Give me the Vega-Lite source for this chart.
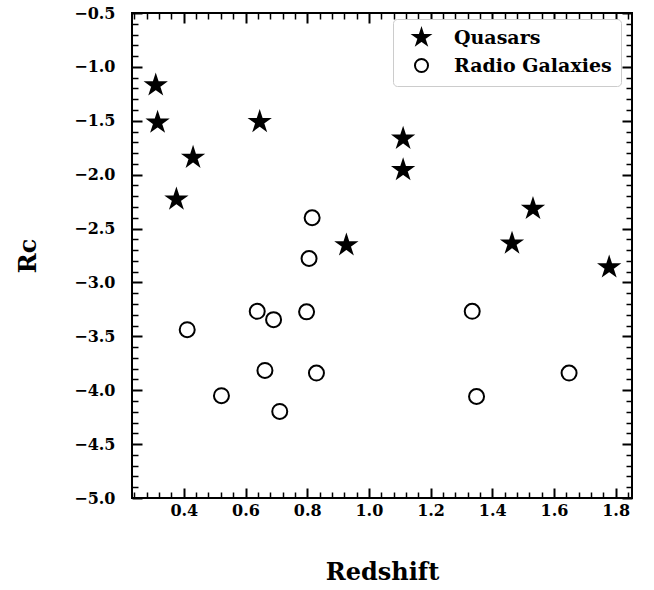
{
  "$schema": "https://vega.github.io/schema/vega-lite/v6.json",
  "width": 500,
  "height": 485,
  "autosize": {"type": "none"},
  "padding": {"left": 132, "top": 13, "right": 22, "bottom": 92},
  "background": "white",
  "config": {
    "view": {"stroke": "black", "strokeWidth": 2},
    "axis": {
      "domain": false,
      "grid": false,
      "tickColor": "black",
      "labelColor": "black",
      "titleColor": "black",
      "labelFont": "DejaVu Serif",
      "labelFontWeight": "bold",
      "labelFontSize": 16,
      "titleFont": "DejaVu Serif",
      "titleFontWeight": "bold",
      "titleFontSize": 24
    },
    "legend": {
      "orient": "none", "legendX": 261, "legendY": 6,
      "labelFont": "DejaVu Serif", "labelFontWeight": "bold", "labelFontSize": 19, "labelColor": "black",
      "symbolSize": 170, "symbolStrokeColor": "black", "symbolStrokeWidth": 2,
      "strokeColor": "#cccccc", "fillColor": "white", "cornerRadius": 4,
      "padding": 9, "rowPadding": 5, "labelOffset": 23, "symbolOffset": 10
    }
  },
  "data": {
    "values": [
      {"z": 0.309, "r": -1.17, "type": "Quasars"},
      {"z": 0.315, "r": -1.516, "type": "Quasars"},
      {"z": 0.430, "r": -1.842, "type": "Quasars"},
      {"z": 0.376, "r": -2.229, "type": "Quasars"},
      {"z": 0.646, "r": -1.510, "type": "Quasars"},
      {"z": 1.111, "r": -1.665, "type": "Quasars"},
      {"z": 1.111, "r": -1.957, "type": "Quasars"},
      {"z": 1.532, "r": -2.316, "type": "Quasars"},
      {"z": 1.464, "r": -2.638, "type": "Quasars"},
      {"z": 1.779, "r": -2.859, "type": "Quasars"},
      {"z": 0.927, "r": -2.654, "type": "Quasars"},
      {"z": 0.816, "r": -2.400, "type": "Radio Galaxies"},
      {"z": 0.806, "r": -2.778, "type": "Radio Galaxies"},
      {"z": 0.638, "r": -3.268, "type": "Radio Galaxies"},
      {"z": 0.691, "r": -3.345, "type": "Radio Galaxies"},
      {"z": 0.798, "r": -3.273, "type": "Radio Galaxies"},
      {"z": 0.411, "r": -3.438, "type": "Radio Galaxies"},
      {"z": 0.663, "r": -3.816, "type": "Radio Galaxies"},
      {"z": 0.830, "r": -3.841, "type": "Radio Galaxies"},
      {"z": 0.522, "r": -4.051, "type": "Radio Galaxies"},
      {"z": 0.711, "r": -4.197, "type": "Radio Galaxies"},
      {"z": 1.335, "r": -3.268, "type": "Radio Galaxies"},
      {"z": 1.349, "r": -4.058, "type": "Radio Galaxies"},
      {"z": 1.649, "r": -3.841, "type": "Radio Galaxies"}
    ]
  },
  "resolve": {"axis": {"x": "independent", "y": "independent"}},
  "layer": [
    {
      "mark": {"type": "point", "strokeWidth": 2, "opacity": 1, "size": 225},
      "encoding": {
        "x": {
          "field": "z", "type": "quantitative",
          "scale": {"domain": [0.232, 1.853], "nice": false, "zero": false},
          "axis": {"orient": "bottom", "values": [0.4, 0.6, 0.8, 1.0, 1.2, 1.4, 1.6, 1.8], "format": ".1f", "tickSize": -10, "tickWidth": 2, "labelPadding": 14, "title": "Redshift", "titlePadding": 42}
        },
        "y": {
          "field": "r", "type": "quantitative",
          "scale": {"domain": [-5.0, -0.5], "nice": false, "zero": false},
          "axis": {"orient": "left", "values": [-5.0, -4.5, -4.0, -3.5, -3.0, -2.5, -2.0, -1.5, -1.0, -0.5], "format": ".1f", "tickSize": -10, "tickWidth": 2, "labelPadding": 27, "title": "Rc", "titlePadding": 33}
        },
        "shape": {
          "field": "type", "type": "nominal",
          "scale": {"domain": ["Quasars", "Radio Galaxies"], "range": ["M0,-1.27L0.285,-0.392L1.208,-0.392L0.461,0.15L0.746,1.027L0,0.485L-0.746,1.027L-0.461,0.15L-1.208,-0.392L-0.285,-0.392Z", "circle"]},
          "legend": {"title": null}
        },
        "fill": {
          "field": "type", "type": "nominal",
          "scale": {"domain": ["Quasars", "Radio Galaxies"], "range": ["black", "white"]},
          "legend": {"title": null}
        },
        "stroke": {
          "field": "type", "type": "nominal",
          "scale": {"domain": ["Quasars", "Radio Galaxies"], "range": ["black", "black"]},
          "legend": {"title": null}
        }
      }
    },
    {
      "mark": {"type": "point", "opacity": 0},
      "encoding": {
        "x": {"field": "z", "type": "quantitative",
          "axis": {"orient": "bottom", "values": [0.24, 0.28, 0.32, 0.36, 0.44, 0.48, 0.52, 0.56, 0.64, 0.68, 0.72, 0.76, 0.84, 0.88, 0.92, 0.96, 1.04, 1.08, 1.12, 1.16, 1.24, 1.28, 1.32, 1.36, 1.44, 1.48, 1.52, 1.56, 1.64, 1.68, 1.72, 1.76, 1.84], "labels": false, "tickSize": -6, "tickWidth": 1.5, "title": null}},
        "y": {"field": "r", "type": "quantitative",
          "axis": {"orient": "left", "values": [-4.9, -4.8, -4.7, -4.6, -4.4, -4.3, -4.2, -4.1, -3.9, -3.8, -3.7, -3.6, -3.4, -3.3, -3.2, -3.1, -2.9, -2.8, -2.7, -2.6, -2.4, -2.3, -2.2, -2.1, -1.9, -1.8, -1.7, -1.6, -1.4, -1.3, -1.2, -1.1, -0.9, -0.8, -0.7, -0.6], "labels": false, "tickSize": -6, "tickWidth": 1.5, "title": null}}
      }
    },
    {
      "mark": {"type": "point", "opacity": 0},
      "encoding": {
        "x": {"field": "z", "type": "quantitative",
          "axis": {"orient": "top", "values": [0.4, 0.6, 0.8, 1.0, 1.2, 1.4, 1.6, 1.8], "labels": false, "tickSize": -10, "tickWidth": 2, "title": null}},
        "y": {"field": "r", "type": "quantitative",
          "axis": {"orient": "right", "values": [-5.0, -4.5, -4.0, -3.5, -3.0, -2.5, -2.0, -1.5, -1.0, -0.5], "labels": false, "tickSize": -10, "tickWidth": 2, "title": null}}
      }
    },
    {
      "mark": {"type": "point", "opacity": 0},
      "encoding": {
        "x": {"field": "z", "type": "quantitative",
          "axis": {"orient": "top", "values": [0.24, 0.28, 0.32, 0.36, 0.44, 0.48, 0.52, 0.56, 0.64, 0.68, 0.72, 0.76, 0.84, 0.88, 0.92, 0.96, 1.04, 1.08, 1.12, 1.16, 1.24, 1.28, 1.32, 1.36, 1.44, 1.48, 1.52, 1.56, 1.64, 1.68, 1.72, 1.76, 1.84], "labels": false, "tickSize": -6, "tickWidth": 1.5, "title": null}},
        "y": {"field": "r", "type": "quantitative",
          "axis": {"orient": "right", "values": [-4.9, -4.8, -4.7, -4.6, -4.4, -4.3, -4.2, -4.1, -3.9, -3.8, -3.7, -3.6, -3.4, -3.3, -3.2, -3.1, -2.9, -2.8, -2.7, -2.6, -2.4, -2.3, -2.2, -2.1, -1.9, -1.8, -1.7, -1.6, -1.4, -1.3, -1.2, -1.1, -0.9, -0.8, -0.7, -0.6], "labels": false, "tickSize": -6, "tickWidth": 1.5, "title": null}}
      }
    }
  ]
}
